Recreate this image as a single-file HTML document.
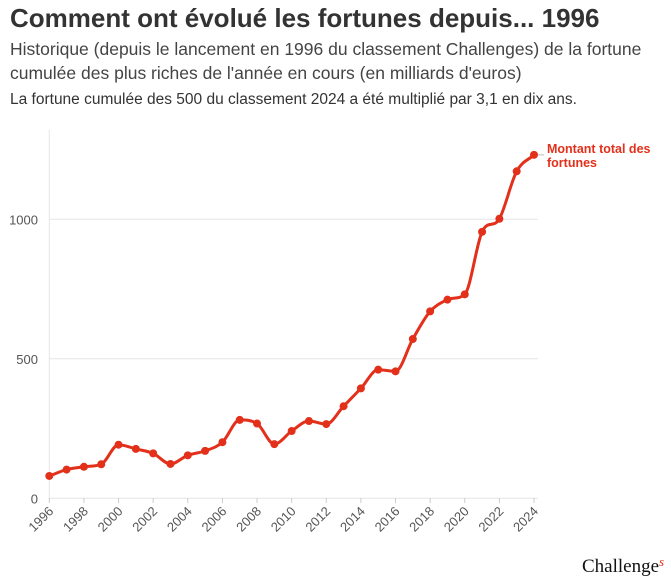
<!DOCTYPE html>
<html><head><meta charset="utf-8"><style>
body{margin:0;width:671px;height:585px;background:#fff;font-family:"Liberation Sans",sans-serif;color:#333;overflow:hidden;position:relative}
.t{position:absolute;left:10px;white-space:nowrap}
</style></head><body>
<div class="t" style="top:3px;font-size:26px;font-weight:bold;color:#333;letter-spacing:0px">Comment ont évolué les fortunes depuis... 1996</div>
<div class="t" style="top:37px;font-size:17.5px;line-height:24px;color:#444">Historique (depuis le lancement en 1996 du classement Challenges) de la fortune<br>cumulée des plus riches de l'année en cours (en milliards d'euros)</div>
<div class="t" style="top:91px;font-size:15.5px;color:#333">La fortune cumulée des 500 du classement 2024 a été multiplié par 3,1 en dix ans.</div>
<svg id="c" width="671" height="585" style="position:absolute;left:0;top:0"></svg>
<div style="position:absolute;left:582px;top:554px;font-family:'Liberation Serif',serif;font-size:19px;color:#111">Challenge<i style="color:#e0301e;font-size:13px;vertical-align:6px">s</i></div>
<script>
const years=[1996,1997,1998,1999,2000,2001,2002,2003,2004,2005,2006,2007,2008,2009,2010,2011,2012,2013,2014,2015,2016,2017,2018,2019,2020,2021,2022,2023,2024];
const values=[80,103,113,122,192,177,161,123,154,170,201,281,268,194,241,277,266,330,394,461,455,571,670,712,731,955,1002,1172,1231];
const yTicks=[0,500,1000];
const xTicks=[1996,1998,2000,2002,2004,2006,2008,2010,2012,2014,2016,2018,2020,2022,2024];
const NS="http://www.w3.org/2000/svg",svg=document.getElementById('c');
const X=v=>49.3+(v-1996)*(534-49.3)/28;
const Y=v=>498.3-v*0.279;
function el(t,a,p){const e=document.createElementNS(NS,t);for(const k in a)e.setAttribute(k,a[k]);(p||svg).appendChild(e);return e;}
el('line',{x1:49.3,y1:130,x2:49.3,y2:499,stroke:'#e6e6e6'});
yTicks.forEach(v=>{
 const g=el('line',{x1:49.3,x2:538,y1:Y(v),y2:Y(v),stroke:'#e6e6e6'});
 
 const t=el('text',{x:38,y:Y(v)+5,'text-anchor':'end','font-size':13,fill:'#555','font-family':'Liberation Sans, sans-serif'});
 
 t.textContent=v;
});
xTicks.forEach(v=>{
 el('line',{x1:X(v),x2:X(v),y1:498,y2:503,stroke:'#ccc'});
 const t=el('text',{transform:`translate(${X(v)+5},${512}) rotate(-45)`,'text-anchor':'end','font-size':13,fill:'#555','font-family':'Liberation Sans, sans-serif'});
 
 t.textContent=v;
});
const px=years.map(X),py=values.map(Y),n=px.length;
const d=[],m=[];
for(let i=0;i<n-1;i++)d.push((py[i+1]-py[i])/(px[i+1]-px[i]));
m[0]=d[0];m[n-1]=d[n-2];
for(let i=1;i<n-1;i++){m[i]=(d[i-1]*d[i]<=0)?0:(d[i-1]+d[i])/2;const h=3*Math.min(Math.abs(d[i-1]),Math.abs(d[i]));if(Math.abs(m[i])>h)m[i]=Math.sign(m[i])*h;}
let p=`M${px[0]},${py[0]}`;
for(let i=0;i<n-1;i++){const h=(px[i+1]-px[i])/3;p+=`C${px[i]+h},${py[i]+m[i]*h} ${px[i+1]-h},${py[i+1]-m[i+1]*h} ${px[i+1]},${py[i+1]}`;}
const line=el('path',{d:p,fill:'none',stroke:'#e3301a','stroke-width':3});

years.forEach((y,i)=>{
 const c=el('circle',{cx:px[i],cy:py[i],r:4,fill:'#e3301a'});
 
});
el('line',{x1:538,x2:544,y1:py[n-1],y2:py[n-1],stroke:'#bbb'});
const lb=el('text',{x:547,y:py[n-1]-2,'font-size':12.5,'font-weight':'bold',fill:'#e3301a','font-family':'Liberation Sans, sans-serif'});

el('tspan',{x:547},lb).textContent='Montant total des';
el('tspan',{x:547,dy:14},lb).textContent='fortunes';
</script>
</body></html>
